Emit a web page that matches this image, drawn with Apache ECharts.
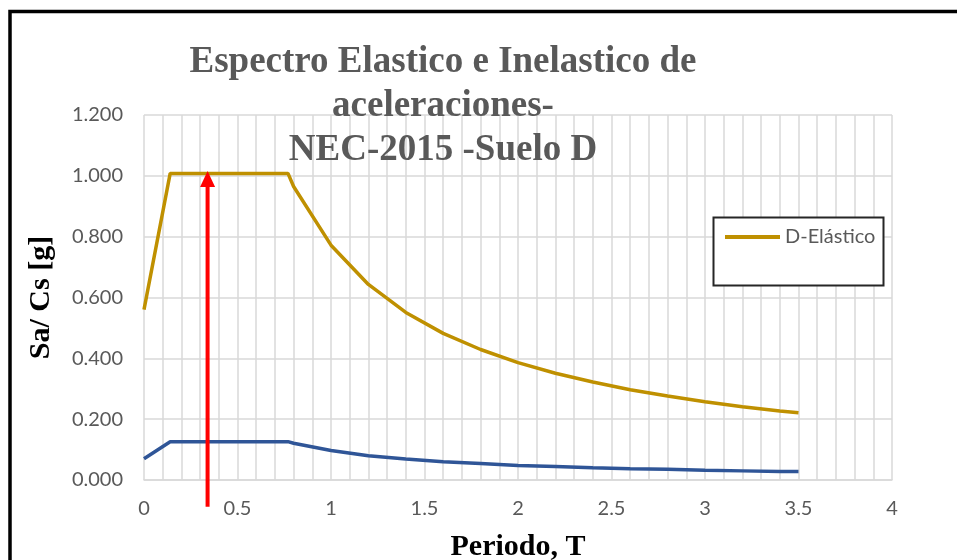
<!DOCTYPE html>
<html>
<head>
<meta charset="utf-8">
<script src="https://cdn.jsdelivr.net/npm/echarts@6/dist/echarts.min.js"></script>
<style>
  html, body { margin: 0; padding: 0; background: #ffffff; }
  #chart { width: 957px; height: 560px; }
</style>
</head>
<body>
<div id="chart"></div>
<script>
// Periodo T (s)
var periods = [0, 0.14, 0.6, 0.77, 0.8, 1.0, 1.2, 1.4, 1.6, 1.8, 2.0, 2.2, 2.4, 2.6, 2.8, 3.0, 3.2, 3.4, 3.5];
// Espectro elástico Sa (g)
var elasticSa = [0.560, 1.008, 1.008, 1.008, 0.965, 0.772, 0.643, 0.551, 0.482, 0.429, 0.386, 0.351, 0.322, 0.297, 0.276, 0.257, 0.241, 0.227, 0.221];
// Espectro inelástico Cs (g)
var inelasticCs = [0.070, 0.126, 0.126, 0.126, 0.121, 0.097, 0.080, 0.069, 0.060, 0.054, 0.048, 0.044, 0.040, 0.037, 0.035, 0.032, 0.030, 0.028, 0.028];
// Flecha vertical: periodo y extremos (g)
var arrowPeriod = 0.34;
var arrowFrom = -0.088;
var arrowTo = 1.016;

var titleLines = ['Espectro Elastico e Inelastico de', 'aceleraciones-', 'NEC-2015 -Suelo D'];
var elasticName = 'D-Elástico';
var inelasticName = 'D-Inelástico';

function pairs(xs, ys) {
  return xs.map(function (x, i) { return [x, ys[i]]; });
}

var chart = echarts.init(document.getElementById('chart'), null, { renderer: 'canvas' });

var tickFont = { fontFamily: 'Lato', fontSize: 20, color: '#595959' };

chart.setOption({
  animation: false,
  backgroundColor: '#ffffff',
  grid: { left: 144, right: 65, top: 115, bottom: 80, containLabel: false, outerBoundsMode: 'none' },
  xAxis: {
    type: 'value',
    min: 0, max: 4, interval: 0.5,
    name: 'Periodo, T',
    nameLocation: 'middle',
    nameGap: 52,
    nameTextStyle: { fontFamily: 'Liberation Serif', fontWeight: 'bold', fontSize: 30, color: '#000000' },
    axisLine: { show: true, lineStyle: { color: '#d9d9d9', width: 1.5 } },
    axisTick: { show: false },
    minorTick: { show: false, splitNumber: 5 },
    axisLabel: Object.assign({ margin: 19 }, tickFont),
    splitLine: { show: true, lineStyle: { color: '#d9d9d9', width: 1.5 } },
    minorSplitLine: { show: true, lineStyle: { color: '#d9d9d9', width: 1.5 } }
  },
  yAxis: {
    type: 'value',
    min: 0, max: 1.2, interval: 0.2,
    name: 'Sa/ Cs [g]',
    nameLocation: 'middle',
    nameRotate: 90,
    nameGap: 88,
    nameTextStyle: { fontFamily: 'Liberation Serif', fontWeight: 'bold', fontSize: 30, color: '#000000' },
    axisLine: { show: false },
    axisTick: { show: false },
    axisLabel: Object.assign({ margin: 21, formatter: function (v) { return v.toFixed(3); } }, tickFont),
    splitLine: { show: true, lineStyle: { color: '#d9d9d9', width: 1.5 } }
  },
  legend: {
    data: [{ name: elasticName, icon: 'rect' }],
    left: 725, top: 227,
    padding: 0,
    itemWidth: 55, itemHeight: 4,
    itemGap: 5,
    z: 5,
    textStyle: { fontFamily: 'Lato', fontSize: 20, color: '#595959', padding: [0, 0, 0, 0] }
  },
  graphic: [
    {
      type: 'rect', z: 3,
      shape: { x: 713.5, y: 217.5, width: 170, height: 68 },
      style: { fill: '#ffffff', stroke: '#262626', lineWidth: 2 }
    },
    {
      type: 'text', z: 6,
      style: {
        x: 443, y: 40,
        text: titleLines.join('\n'),
        textAlign: 'center', textVerticalAlign: 'top',
        font: 'bold 37px "Liberation Serif"',
        lineHeight: 44,
        fill: '#595959'
      }
    },
    {
      type: 'rect', z: 10,
      shape: { x: 10, y: 11.5, width: 1000, height: 600 },
      style: { fill: 'none', stroke: '#000000', lineWidth: 3.5 }
    }
  ],
  series: [
    {
      name: elasticName,
      type: 'line',
      data: pairs(periods, elasticSa),
      showSymbol: false,
      symbol: 'none',
      lineStyle: { color: '#bf9000', width: 3.5 },
      itemStyle: { color: '#bf9000' },
      z: 3
    },
    {
      name: inelasticName,
      type: 'line',
      data: pairs(periods, inelasticCs),
      showSymbol: false,
      symbol: 'none',
      lineStyle: { color: '#2f5597', width: 3.5 },
      itemStyle: { color: '#2f5597' },
      z: 3
    },
    {
      name: 'flecha',
      type: 'custom',
      clip: false,
      z: 4,
      data: [[arrowPeriod, arrowFrom, arrowTo]],
      renderItem: function (params, api) {
        var bottom = api.coord([api.value(0), api.value(1)]);
        var tip = api.coord([api.value(0), api.value(2)]);
        var headLen = 16, headHalf = 7.5;
        return {
          type: 'group',
          children: [
            {
              type: 'line',
              shape: { x1: bottom[0], y1: bottom[1], x2: tip[0], y2: tip[1] + headLen - 1 },
              style: { stroke: '#ff0000', lineWidth: 4 }
            },
            {
              type: 'polygon',
              shape: { points: [[tip[0], tip[1]], [tip[0] - headHalf, tip[1] + headLen], [tip[0] + headHalf, tip[1] + headLen]] },
              style: { fill: '#ff0000' }
            }
          ]
        };
      }
    }
  ]
});
</script>
</body>
</html>
